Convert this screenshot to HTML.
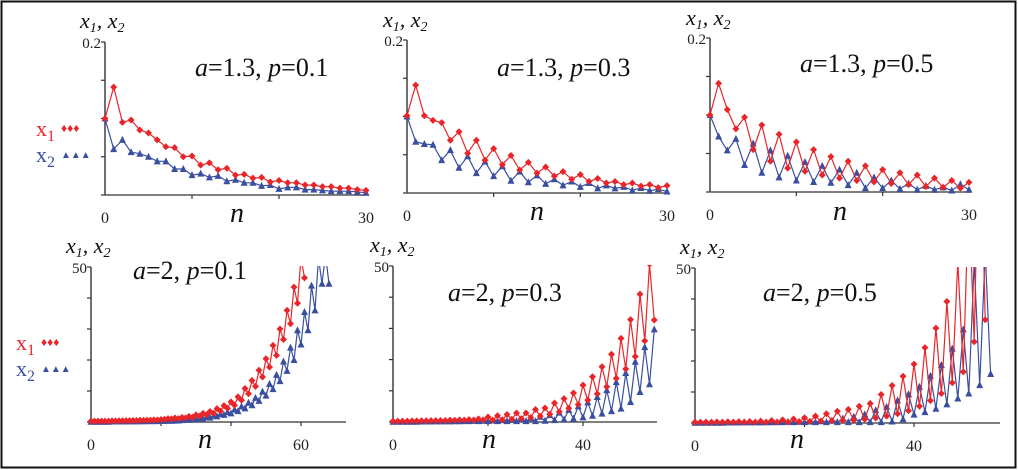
<!DOCTYPE html>
<html><head><meta charset="utf-8">
<style>
html,body{margin:0;padding:0;background:#fff;}
svg{display:block;}
svg text{font-family:"Liberation Serif","DejaVu Serif",serif;}
</style></head>
<body>
<svg id="chart" width="1018" height="470" viewBox="0 0 1018 470" xmlns="http://www.w3.org/2000/svg" font-family="Liberation Serif, DejaVu Serif, serif">
<rect x="1.5" y="1.5" width="1014" height="466" fill="#fff" stroke="#111" stroke-width="2"/>
<g font-family="Liberation Serif, DejaVu Serif, serif">
<text x="36" y="136" font-size="22" fill="#e8262a">x<tspan font-size="16" dy="5">1</tspan></text>
<text x="61" y="132" font-size="12" fill="#e8262a">♦♦♦</text>
<text x="36" y="162" font-size="22" fill="#3a4fa0">x<tspan font-size="16" dy="5">2</tspan></text>
<text x="61" y="158" font-size="10" fill="#3a4fa0">▲▲▲</text>
</g>
<g font-family="Liberation Serif, DejaVu Serif, serif">
<text x="16" y="350" font-size="22" fill="#e8262a">x<tspan font-size="16" dy="5">1</tspan></text>
<text x="41" y="346" font-size="12" fill="#e8262a">♦♦♦</text>
<text x="16" y="376" font-size="22" fill="#3a4fa0">x<tspan font-size="16" dy="5">2</tspan></text>
<text x="41" y="372" font-size="10" fill="#3a4fa0">▲▲▲</text>
</g>
</svg>
<script>
// ---- data ----
const tlRed=[0.1,0.141,0.095,0.098,0.085,0.081,0.072,0.063,0.062,0.05,0.051,0.039,0.042,0.033,0.035,0.026,0.027,0.022,0.023,0.017,0.019,0.016,0.016,0.013,0.013,0.011,0.011,0.009,0.009,0.007,0.006];
const tlBlue=[0.1,0.06,0.072,0.056,0.054,0.05,0.044,0.044,0.034,0.034,0.026,0.028,0.023,0.025,0.018,0.02,0.016,0.016,0.012,0.013,0.008,0.01,0.01,0.007,0.007,0.006,0.005,0.005,0.005,0.004,0.003];
const tmRed=[0.101,0.141,0.101,0.095,0.092,0.069,0.08,0.052,0.069,0.043,0.058,0.037,0.049,0.03,0.04,0.026,0.034,0.022,0.028,0.018,0.024,0.015,0.019,0.013,0.015,0.011,0.013,0.009,0.011,0.007,0.0096];
const tmBlue=[0.1,0.067,0.064,0.063,0.043,0.056,0.033,0.048,0.026,0.041,0.022,0.035,0.016,0.028,0.014,0.023,0.012,0.018,0.01,0.015,0.008,0.013,0.006,0.01,0.006,0.008,0.0035,0.0065,0.003,0.005,0.002];
const trRed=[0.1,0.141,0.107,0.082,0.097,0.055,0.087,0.04,0.075,0.031,0.065,0.027,0.055,0.022,0.046,0.018,0.04,0.015,0.034,0.013,0.029,0.011,0.025,0.0095,0.022,0.007,0.018,0.006,0.015,0.005,0.0125];
const trBlue=[0.1,0.072,0.054,0.069,0.035,0.063,0.025,0.054,0.019,0.047,0.015,0.039,0.013,0.034,0.012,0.029,0.009,0.025,0.005,0.019,0.005,0.015,0.004,0.011,0.003,0.008,0.003,0.006,0.002,0.01,0.003];
const blRed=[0.3,0.3,0.3,0.3,0.3,0.3,0.35,0.35,0.4,0.4,0.45,0.45,0.5,0.5,0.55,0.55,0.6,0.6,0.7,0.7,0.8,0.9,1.1,1.0,1.3,1.1,1.5,1.3,1.8,1.5,2.3,1.9,2.8,2.3,3.4,2.8,4.3,3.5,5.3,4.4,6.5,5.4,8.1,7.0,10.8,9.1,13.4,11.5,16.7,14.5,20.4,17.7,24.7,21.5,30,26.6,36,31.7,43.5,38.3,53,46.5];
const blBlue=[0.1,0.1,0.1,0.1,0.1,0.1,0.15,0.15,0.15,0.15,0.2,0.2,0.2,0.2,0.25,0.25,0.3,0.3,0.3,0.3,0.35,0.35,0.4,0.4,0.45,0.5,0.6,0.8,0.7,1.0,0.9,1.2,1.1,1.6,1.4,2.0,1.8,2.6,2.3,3.2,2.8,4.0,3.5,5.0,4.4,6.2,5.4,7.8,6.8,9.8,8.5,12.3,10.6,15.2,13.2,19.5,16.5,24,20,29.6,25,35.5,29.6,44,36,53,44.6,54,44.6];
const bmRed=[0.3,0.3,0.3,0.3,0.35,0.35,0.4,0.4,0.45,0.45,0.5,0.5,0.6,0.55,0.7,0.6,0.8,0.65,1.0,0.7,1.6,0.6,2.0,0.7,2.4,0.9,2.9,1.1,2.9,1.4,4.0,1.9,4.5,2.5,6.1,3.3,7.5,4.4,9.3,5.6,11.8,7,14.5,9,17.7,11.3,21.7,14,26.8,17,32.8,21,41,26,50.6,32.7];
const bmBlue=[0.1,0.1,0.1,0.1,0.1,0.1,0.15,0.15,0.15,0.2,0.2,0.2,0.2,0.25,0.25,0.3,0.3,0.35,0.3,0.4,0.3,0.5,0.3,0.6,0.3,0.7,0.3,0.9,0.3,1.2,0.3,1.7,0.4,2.2,0.6,3,0.8,3.9,1.1,5,1.5,6.3,2,8,2.7,10.2,3.5,12.8,4.3,15.7,6.4,19.3,9.6,24,12.1,29.7];
const brRed=[0.3,0.3,0.3,0.3,0.35,0.3,0.4,0.3,0.45,0.3,0.5,0.3,0.6,0.3,0.8,0.3,1.0,0.3,1.3,0.4,1.7,0.5,2.2,0.6,3,0.7,3.8,0.8,4.4,0.9,5.4,1.2,6.3,1.6,9.2,2.2,12.1,3,15.1,4,19,5.4,24.3,7.2,30.6,9.5,39.2,13,52,16.5,75,26.2,110,33.3];
const brBlue=[0.1,0.1,0.1,0.1,0.1,0.1,0.15,0.15,0.15,0.2,0.2,0.2,0.2,0.25,0.25,0.3,0.3,0.35,0.3,0.4,0.3,0.5,0.3,0.6,0.3,0.8,0.3,1.4,0.3,2,0.3,2.8,0.3,4.1,0.3,5.2,0.5,7.3,1.2,9.3,2.7,11.7,3.5,15.2,4.6,18.7,6,24,7.9,30.2,9.5,52,12.2,55,15.8];
const topYTicks=[0,0.05,0.1,0.15,0.2];
const botYTicks=[0,10,20,30,40,50];

const NS="http://www.w3.org/2000/svg";
const FONT="Liberation Serif, DejaVu Serif, serif";
const svg=document.getElementById('chart');
function mk(tag,attrs,parent){const e=document.createElementNS(NS,tag);for(const k in attrs)e.setAttribute(k,attrs[k]);if(tag==='text')e.setAttribute('font-family',FONT);(parent||svg).appendChild(e);return e;}

const panels=[
 {id:'tl',x0:105,x1:366,xmax:30,y0:195,y1:42,ymax:0.2,axEnd:366,xt:[10,20],xl:[[0,'0'],[30,'30']],ytop:'0.2',yt:topYTicks,red:tlRed,blue:tlBlue,ann:[195,76,'1.3','0.1'],lab:[80,28],nx:230,ny:222},
 {id:'tm',x0:407,x1:667,xmax:30,y0:193,y1:40,ymax:0.2,axEnd:667,xt:[10,20],xl:[[0,'0'],[30,'30']],ytop:'0.2',yt:topYTicks,red:tmRed,blue:tmBlue,ann:[497,76,'1.3','0.3'],lab:[383,27],nx:530,ny:220},
 {id:'tr',x0:710,x1:969,xmax:30,y0:192,y1:38,ymax:0.2,axEnd:969,xt:[10,20],xl:[[0,'0'],[30,'30']],ytop:'0.2',yt:topYTicks,red:trRed,blue:trBlue,ann:[800,72,'1.3','0.5'],lab:[686,25],nx:833,ny:220},
 {id:'bl',x0:91,x1:301,xmax:60,y0:422,y1:267,ymax:50,axEnd:346,xt:[20,40,60],xl:[[0,'0'],[60,'60']],ytop:'50',yt:botYTicks,red:blRed,blue:blBlue,ann:[133,279,'2','0.1'],lab:[66,253],nx:198,ny:448},
 {id:'bm',x0:393,x1:583,xmax:40,y0:422,y1:266,ymax:50,axEnd:657,xt:[20,40],xl:[[0,'0'],[40,'40']],ytop:'50',yt:botYTicks,red:bmRed,blue:bmBlue,ann:[448,301,'2','0.3'],lab:[370,252],nx:482,ny:448},
 {id:'br',x0:695,x1:914,xmax:40,y0:423,y1:268,ymax:50,axEnd:1000,xt:[20,40],xl:[[0,'0'],[40,'40']],ytop:'50',yt:botYTicks,red:brRed,blue:brBlue,ann:[763,301,'2','0.5'],lab:[680,254],nx:790,ny:448}
];

panels.forEach(p=>{
 const sx=v=>p.x0+(p.x1-p.x0)*v/p.xmax;
 const sy=v=>p.y0-(p.y0-p.y1)*v/p.ymax;
 const g=mk('g',{});
 
 
 const cp=mk('clipPath',{id:'clip-'+p.id},g);
 mk('rect',{x:p.x0-6,y:p.y1-1,width:p.axEnd-p.x0+30,height:p.y0-p.y1+6},cp);
 const yax=mk('line',{x1:p.x0,y1:p.y1,x2:p.x0,y2:p.y0,stroke:'#333','stroke-width':1.4},g);
 
 
 const xax=mk('line',{x1:p.x0,y1:p.y0,x2:p.axEnd,y2:p.y0,stroke:'#555','stroke-width':1.4},g);
 
 
 p.yt.forEach(t=>{mk('line',{x1:p.x0-4,y1:sy(t),x2:p.x0,y2:sy(t),stroke:'#333','stroke-width':1.2},g);});
 p.xt.forEach(t=>{mk('line',{x1:sx(t),y1:p.y0,x2:sx(t),y2:p.y0+4,stroke:'#333','stroke-width':1.2},g);});
 const yl=mk('text',{x:p.x0-4,y:p.y1+6,'font-size':15,'text-anchor':'end',fill:'#222'},g);
 yl.textContent=p.ytop;
 
 
 p.xl.forEach(([v,s])=>{
  const t=mk('text',{x:sx(v),y:p.y0+28,'font-size':16,'text-anchor':'middle',fill:'#222'},g);
  t.textContent=s;
  
  
 });
 const nt=mk('text',{x:p.nx,y:p.ny,'font-size':28,'font-style':'italic',fill:'#111'},g);
 nt.textContent='n';
 
 
 const lb=mk('text',{x:p.lab[0],y:p.lab[1],'font-size':22,'font-style':'italic',fill:'#111'},g);
 lb.innerHTML='x<tspan font-size="14" dy="4">1</tspan><tspan dy="-4">, x</tspan><tspan font-size="14" dy="4">2</tspan>';
 
 
 const an=mk('text',{x:p.ann[0],y:p.ann[1],'font-size':26,fill:'#111'},g);
 an.innerHTML='<tspan font-style="italic">a</tspan>='+p.ann[2]+', <tspan font-style="italic">p</tspan>='+p.ann[3];
 
 
 const dg=mk('g',{'clip-path':'url(#clip-'+p.id+')'},g);
 [['blue',p.blue,'#3a4fa0'],['red',p.red,'#e8262a']].forEach(([nm,arr,col])=>{
  const pts=arr.map((v,i)=>sx(i).toFixed(1)+','+sy(v).toFixed(1)).join(' ');
  const pl=mk('polyline',{points:pts,fill:'none',stroke:col,'stroke-width':1.2},dg);
  
  
  arr.forEach((v,i)=>{
   const x=sx(i),y=sy(v);
   let m;
   if(nm==='red') m=mk('polygon',{points:`${x},${y-3.5} ${x+3.5},${y} ${x},${y+3.5} ${x-3.5},${y}`,fill:col},dg);
   else m=mk('polygon',{points:`${x},${y-4} ${x+3.5},${y+3} ${x-3.5},${y+3}`,fill:col},dg);
   
   
  });
 });
});
</script>
</body></html>
